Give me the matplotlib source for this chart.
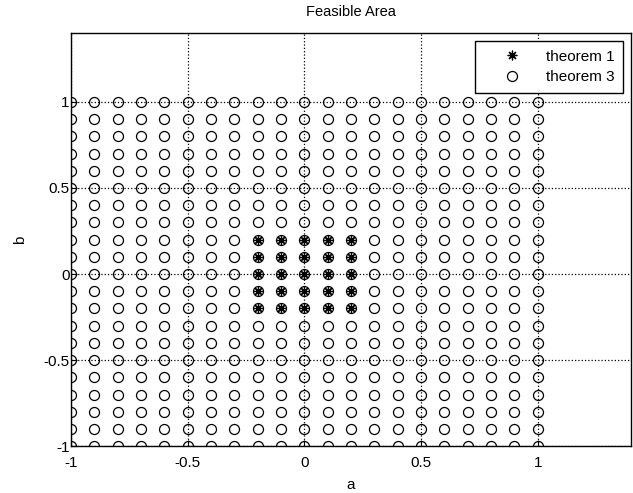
import numpy as np
import matplotlib.pyplot as plt

plt.rcParams['font.family'] = ['Liberation Sans', 'DejaVu Sans']

# sample grid for theorem 3 (a, b)
grid_vals = [-1.0, -0.9, -0.8, -0.7, -0.6, -0.5, -0.4, -0.3, -0.2, -0.1, 0.0,
             0.1, 0.2, 0.3, 0.4, 0.5, 0.6, 0.7, 0.8, 0.9, 1.0]
# feasible values from theorem 1
t1_vals = [-0.2, -0.1, 0.0, 0.1, 0.2]
ticks = [-1, -0.5, 0, 0.5, 1]
tick_labels = ['-1', '-0.5', '0', '0.5', '1']

A3, B3 = np.meshgrid(grid_vals, grid_vals)
A1, B1 = np.meshgrid(t1_vals, t1_vals)

fig = plt.figure(figsize=(6.33, 4.93), dpi=100)
ax = fig.add_axes([0.112, 0.095, 0.885, 0.838])

ax.plot(A1.ravel(), B1.ravel(), linestyle='none', marker=(8, 2, 0),
        markersize=7, color='k', markeredgewidth=0.9, label='theorem 1')
ax.plot(A3.ravel(), B3.ravel(), linestyle='none', marker='o',
        markersize=7.2, markerfacecolor='none', markeredgecolor='k',
        markeredgewidth=0.9, label='theorem 3')

ax.set_xlim(-1, 1.4)
ax.set_ylim(-1, 1.4)
ax.set_xticks(ticks)
ax.set_xticklabels(tick_labels)
ax.set_yticks(ticks)
ax.set_yticklabels(tick_labels)
ax.tick_params(direction='in', length=4, labelsize=11)
ax.tick_params(axis='x', pad=7)
ax.tick_params(axis='y', pad=1)
ax.grid(True, linestyle=':', color='k', linewidth=0.9)
for s in ax.spines.values():
    s.set_linewidth(1.0)

ax.set_title('Feasible Area', fontsize=10.5, pad=12)
ax.set_xlabel('a', fontsize=11, labelpad=6)
ax.set_ylabel('b', fontsize=11, labelpad=12)

leg = ax.legend(loc='upper right', fontsize=11, fancybox=False,
                edgecolor='k', framealpha=1, borderaxespad=0.5,
                borderpad=0.6, handletextpad=0.4, handlelength=3.6,
                labelspacing=0.4)
leg.get_frame().set_linewidth(1.0)

fig.savefig('out.png', dpi=100)
